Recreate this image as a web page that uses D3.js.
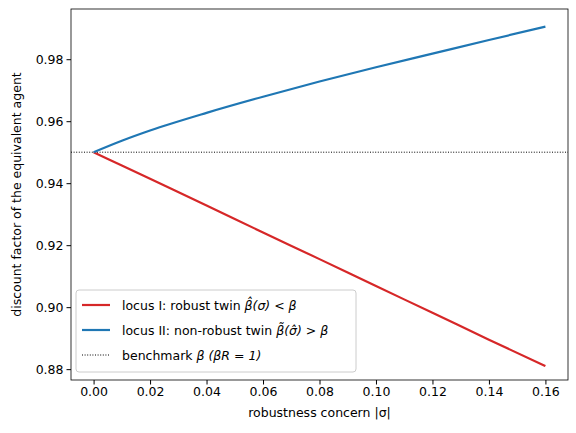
<!DOCTYPE html>
<html><head><meta charset="utf-8">
<script src="https://cdn.jsdelivr.net/npm/d3@7"></script>
<style>body{margin:0;background:#fff}text{font-family:"DejaVu Sans",sans-serif}</style>
</head><body><div id="chart"></div>
<script>
const sigma = [0, 0.01, 0.02, 0.04, 0.06, 0.08, 0.10, 0.12, 0.14, 0.16];
const robust = [0.95, 0.9457, 0.9414, 0.9328, 0.9241, 0.9155, 0.9068, 0.8982, 0.8895, 0.8810];
const nonRobust = [0.95, 0.9537, 0.9570, 0.9627, 0.9679, 0.9728, 0.9774, 0.9818, 0.9862, 0.9905];
const benchmark = 0.95;
const xTicks = [0, 0.02, 0.04, 0.06, 0.08, 0.10, 0.12, 0.14, 0.16];
const yTicks = [0.88, 0.90, 0.92, 0.94, 0.96, 0.98];

const W = 576, H = 433;
const margin = {left: 71, right: 8, top: 9, bottom: 53};
const FS = 12.5;
const svg = d3.select("#chart").append("svg").attr("width", W).attr("height", H);
const x = d3.scaleLinear().domain([-0.008, 0.168]).range([margin.left, W - margin.right]);
const y = d3.scaleLinear().domain([0.8765, 0.9962]).range([H - margin.bottom, margin.top]);

const gx = svg.append("g").attr("transform", `translate(0,${H - margin.bottom})`)
  .call(d3.axisBottom(x).tickValues(xTicks).tickFormat(d3.format(".2f")).tickSizeOuter(0).tickSize(4.5));
const gy = svg.append("g").attr("transform", `translate(${margin.left},0)`)
  .call(d3.axisLeft(y).tickValues(yTicks).tickFormat(d3.format(".2f")).tickSizeOuter(0).tickSize(4.5));
[gx, gy].forEach(g => {
  g.selectAll("text").attr("font-size", FS).attr("fill", "#000");
  g.selectAll("line").attr("stroke", "#000");
  g.select(".domain").remove();
});
svg.append("rect").attr("x", margin.left).attr("y", margin.top)
  .attr("width", W - margin.left - margin.right).attr("height", H - margin.top - margin.bottom)
  .attr("fill", "none").attr("stroke", "#000").attr("stroke-width", 0.8);

svg.append("text").attr("x", (margin.left + W - margin.right) / 2).attr("y", H - 16)
  .attr("text-anchor", "middle").attr("font-size", FS).text("robustness concern |σ|");
svg.append("text").attr("transform", `translate(21,${(margin.top + H - margin.bottom) / 2}) rotate(-90)`)
  .attr("text-anchor", "middle").attr("font-size", FS).text("discount factor of the equivalent agent");

svg.append("line").attr("x1", margin.left).attr("x2", W - margin.right)
  .attr("y1", y(benchmark)).attr("y2", y(benchmark))
  .attr("stroke", "#000").attr("stroke-width", 1).attr("stroke-dasharray", "1,1.6");

const line = d3.line().x((d, i) => x(sigma[i])).y(d => y(d)).curve(d3.curveMonotoneX);
svg.append("path").attr("d", line(robust)).attr("fill", "none").attr("stroke", "#d62728").attr("stroke-width", 2.2);
svg.append("path").attr("d", line(nonRobust)).attr("fill", "none").attr("stroke", "#1f77b4").attr("stroke-width", 2.2);

// legend
const lg = svg.append("g").attr("transform", "translate(76,290)");
lg.append("rect").attr("width", 280).attr("height", 82).attr("rx", 3)
  .attr("fill", "#fff").attr("fill-opacity", 0.8).attr("stroke", "#ccc");
const items = [
  {c: "#d62728", dash: null, w: 2.2, html: ["locus I: robust twin ", "β̂", "(σ) < β"]},
  {c: "#1f77b4", dash: null, w: 2.2, html: ["locus II: non-robust twin ", "β̃", "(σ̂) > β"]},
  {c: "#000", dash: "1,1.6", w: 1, html: ["benchmark ", "β", " (βR = 1)"]}
];
items.forEach((it, i) => {
  const yy = 15 + i * 25;
  lg.append("line").attr("x1", 6).attr("x2", 34).attr("y1", yy).attr("y2", yy)
    .attr("stroke", it.c).attr("stroke-width", it.w).attr("stroke-dasharray", it.dash);
  const t = lg.append("text").attr("x", 46).attr("y", yy + 4.5).attr("font-size", FS);
  t.append("tspan").text(it.html[0]);
  t.append("tspan").attr("font-style", "italic").text(it.html[1]);
  t.append("tspan").attr("font-style", "italic").text(it.html[2]);
});
</script></body></html>
